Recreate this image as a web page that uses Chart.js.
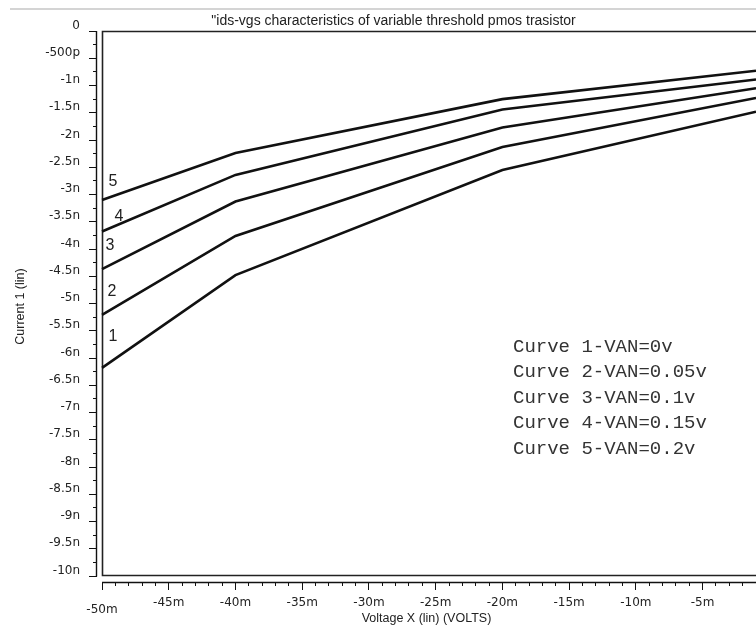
<!DOCTYPE html>
<html>
<head>
<meta charset="utf-8">
<title>ids-vgs characteristics</title>
<script src="https://cdn.jsdelivr.net/npm/chart.js@4/dist/chart.umd.min.js"></script>
<style>
  html, body { margin: 0; padding: 0; background: #fff; }
  #wrap { width: 756px; height: 628px; }
</style>
</head>
<body>
<div id="wrap"><canvas id="chart" width="756" height="628"></canvas></div>
<script>
// --- DATA (x in mV, y in nA) ---
const xVolts = [-50, -40, -20, -1];
const curve1 = [-6.18, -4.48, -2.55, -1.48];
const curve2 = [-5.21, -3.76, -2.13, -1.23];
const curve3 = [-4.37, -3.13, -1.77, -1.05];
const curve4 = [-3.68, -2.64, -1.44, -0.89];
const curve5 = [-3.10, -2.24, -1.25, -0.73];
const curveNames = ['1', '2', '3', '4', '5'];

const legendLines = [
    'Curve 1-VAN=0v',
    'Curve 2-VAN=0.05v',
    'Curve 3-VAN=0.1v',
    'Curve 4-VAN=0.15v',
    'Curve 5-VAN=0.2v'
];

const xMajorTicks = [-50, -45, -40, -35, -30, -25, -20, -15, -10, -5];
const xTickLabels = ['-50m', '-45m', '-40m', '-35m', '-30m', '-25m', '-20m', '-15m', '-10m', '-5m'];
const yMajorTicks = [0, -0.5, -1, -1.5, -2, -2.5, -3, -3.5, -4, -4.5, -5, -5.5, -6, -6.5, -7, -7.5, -8, -8.5, -9, -9.5, -10];
const yTickLabels = ['0', '-500p', '-1n', '-1.5n', '-2n', '-2.5n', '-3n', '-3.5n', '-4n', '-4.5n', '-5n',
    '-5.5n', '-6n', '-6.5n', '-7n', '-7.5n', '-8n', '-8.5n', '-9n', '-9.5n', '-10n'];

const chartTitle = '"ids-vgs characteristics of variable threshold pmos trasistor';
const xTitle = 'Voltage X (lin) (VOLTS)';
const yTitle = 'Current 1 (lin)';

// minor ticks: every 1m on x, every 250p on y
const xAllTicks = [];
for (let v = xMajorTicks[0]; v <= -1; v += 1) xAllTicks.push(v);
const yAllTicks = [];
for (let i = 0; i < yMajorTicks.length; i++) {
    yAllTicks.push(yMajorTicks[i]);
    if (i < yMajorTicks.length - 1) yAllTicks.push((yMajorTicks[i] + yMajorTicks[i + 1]) / 2);
}

const xIsMajor = v => xMajorTicks.indexOf(v) >= 0;
const yIsMajor = v => yMajorTicks.indexOf(v) >= 0;

// --- DRAWING HELPERS ---
const decor = {
    id: 'decor',
    beforeDraw(chart) {
        const ctx = chart.ctx;
        ctx.save();
        ctx.fillStyle = '#fff';
        ctx.fillRect(0, 0, chart.width, chart.height);
        ctx.strokeStyle = '#d4d4d4';
        ctx.lineWidth = 2;
        ctx.beginPath();
        ctx.moveTo(10, 9);
        ctx.lineTo(chart.width, 9);
        ctx.stroke();
        ctx.restore();
    },
    beforeDatasetsDraw(chart) {
        // plot frame
        const {ctx, chartArea} = chart;
        const xs = chart.scales.x, ys = chart.scales.y;
        const l = Math.round(xs.getPixelForValue(-50)) + 0.5;
        const b = Math.round(ys.getPixelForValue(-10)) - 0.5;
        const t = chartArea.top + 0.5;
        ctx.save();
        ctx.strokeStyle = '#222';
        ctx.lineWidth = 1.6;
        ctx.beginPath();
        ctx.moveTo(chartArea.right, t);
        ctx.lineTo(l, t);
        ctx.lineTo(l, b);
        ctx.lineTo(chartArea.right, b);
        ctx.stroke();
        ctx.restore();
    },
    afterDraw(chart) {
        const {ctx, chartArea} = chart;
        const xs = chart.scales.x, ys = chart.scales.y;
        ctx.save();
        // separate axis lines
        ctx.strokeStyle = '#111';
        ctx.lineWidth = 1.4;
        ctx.beginPath();
        const ax = chartArea.left - 0.5;
        ctx.moveTo(ax, ys.getPixelForValue(0));
        ctx.lineTo(ax, ys.getPixelForValue(-10) + 0.5);
        const ay = chartArea.bottom + 0.5;
        ctx.moveTo(xs.getPixelForValue(-50), ay);
        ctx.lineTo(chartArea.right, ay);
        ctx.stroke();

        // curve numbers near the start of each line
        const nudge = [[11, -31], [10, -23], [8, -24], [17, -15], [11, -18]];
        ctx.fillStyle = '#222';
        ctx.font = '16px "Liberation Sans", Arial, sans-serif';
        ctx.textAlign = 'center';
        ctx.textBaseline = 'middle';
        chart.data.datasets.forEach((ds, i) => {
            const p = ds.data[0];
            ctx.fillText(curveNames[i], xs.getPixelForValue(p.x) + nudge[i][0], ys.getPixelForValue(p.y) + nudge[i][1]);
        });

        // curve key
        ctx.font = '19px "Liberation Mono", "Courier New", monospace';
        ctx.textAlign = 'left';
        ctx.fillStyle = '#333';
        const lx = chartArea.left + 416, ly = chartArea.top + 316;
        legendLines.forEach((s, i) => ctx.fillText(s, lx, ly + i * 25.4));
        ctx.restore();
    }
};

function makeDataset(values, label) {
    return {
        label: label,
        data: xVolts.map((x, i) => ({x: x, y: values[i]})),
        borderColor: '#111',
        borderWidth: 2.6,
        pointRadius: 0,
        tension: 0,
        fill: false
    };
}

const tickFont = {family: '"DejaVu Sans", sans-serif', size: 12};
const titleFont = {family: '"Liberation Sans", Arial, sans-serif', size: 12.5};

new Chart(document.getElementById('chart'), {
    type: 'line',
    data: {
        datasets: [
            makeDataset(curve1, 'Curve 1'),
            makeDataset(curve2, 'Curve 2'),
            makeDataset(curve3, 'Curve 3'),
            makeDataset(curve4, 'Curve 4'),
            makeDataset(curve5, 'Curve 5')
        ]
    },
    plugins: [decor],
    options: {
        responsive: false,
        animation: false,
        layout: { padding: 0 },
        plugins: {
            legend: { display: false },
            tooltip: { enabled: false },
            title: {
                display: true,
                // leading spaces nudge the centred title right, as in the original
                text: '\u00a0\u00a0\u00a0\u00a0\u00a0\u00a0\u00a0\u00a0' + chartTitle,
                color: '#222',
                font: {family: '"Liberation Sans", Arial, sans-serif', size: 14, weight: 'normal', lineHeight: 1.15},
                padding: {top: 13.5, bottom: 1.4}
            }
        },
        scales: {
            x: {
                type: 'linear',
                position: 'bottom',
                min: -50.375,
                max: -1,
                afterBuildTicks: s => { s.ticks = xAllTicks.map(v => ({value: v})); },
                afterFit: s => { s.height = 46; s.paddingLeft = 0; s.paddingRight = 0; },
                border: { display: false },
                grid: {
                    drawOnChartArea: false,
                    tickLength: 8,
                    tickColor: '#111',
                    tickBorderDash: c => (c.tick && !xIsMajor(c.tick.value)) ? [4, 20] : []
                },
                ticks: {
                    autoSkip: false,
                    maxRotation: 0,
                    padding: 6,
                    color: '#222',
                    font: c => (c.tick && c.tick.value === -50) ? Object.assign({}, tickFont, {lineHeight: '9.5px'}) : tickFont,
                    callback: v => {
                        const i = xMajorTicks.indexOf(v);
                        if (i < 0) return '';
                        return v === -50 ? ['', xTickLabels[i]] : xTickLabels[i];
                    }
                },
                title: {
                    display: true,
                    text: xTitle,
                    color: '#222',
                    font: titleFont,
                    padding: {top: 0, bottom: 2}
                }
            },
            y: {
                type: 'linear',
                position: 'left',
                min: -10.11,
                max: 0,
                afterBuildTicks: s => { s.ticks = yAllTicks.map(v => ({value: v})); },
                afterFit: s => { s.width = 97; },
                border: { display: false },
                grid: {
                    drawOnChartArea: false,
                    tickLength: 8,
                    tickColor: '#111',
                    tickBorderDash: c => (c.tick && !yIsMajor(c.tick.value)) ? [0, 4, 4, 20] : []
                },
                ticks: {
                    autoSkip: false,
                    padding: 9,
                    color: '#222',
                    font: Object.assign({}, tickFont, {lineHeight: '11px'}),
                    callback: v => {
                        const i = yMajorTicks.indexOf(v);
                        return i < 0 ? '' : [yTickLabels[i], ''];
                    }
                },
                title: {
                    display: true,
                    text: yTitle,
                    color: '#222',
                    font: titleFont,
                    padding: {top: 13, bottom: 0}
                }
            }
        }
    }
});
</script>
</body>
</html>
